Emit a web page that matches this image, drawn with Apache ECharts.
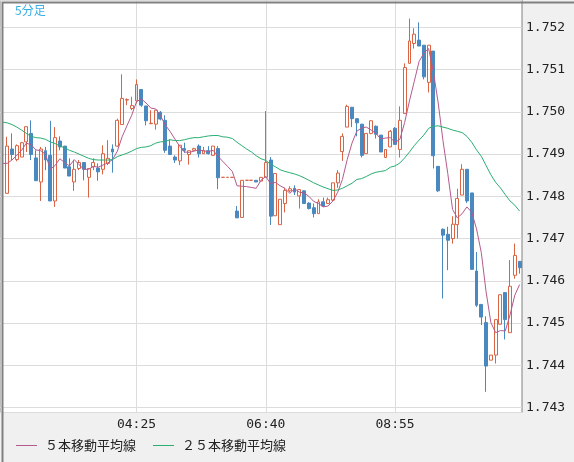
<!DOCTYPE html>
<html>
<head>
<meta charset="utf-8">
<script src="https://cdn.jsdelivr.net/npm/echarts@6/dist/echarts.min.js"></script>
<style>
html,body{margin:0;padding:0;background:#f0f0f0;}
#c{width:574px;height:462px;}
</style>
</head>
<body>
<div id="c"></div>
<script>
const times = [
'02:05','02:10','02:15','02:20','02:25','02:30','02:35','02:40','02:45','02:50','02:55',
'03:00','03:05','03:10','03:15','03:20','03:25','03:30','03:35','03:40','03:45','03:50','03:55',
'04:00','04:05','04:10','04:15','04:20','04:25','04:30','04:35','04:40','04:45','04:50','04:55',
'05:00','05:05','05:10','05:15','05:20','05:25','05:30','05:35','05:40','05:45','05:50','05:55',
'06:00','06:05','06:10','06:15','06:20','06:25','06:30','06:35','06:40','06:45','06:50','06:55',
'07:00','07:05','07:10','07:15','07:20','07:25','07:30','07:35','07:40','07:45','07:50','07:55',
'08:00','08:05','08:10','08:15','08:20','08:25','08:30','08:35','08:40','08:45','08:50','08:55',
'09:00','09:05','09:10','09:15','09:20','09:25','09:30','09:35','09:40','09:45','09:50','09:55',
'10:00','10:05','10:10','10:15','10:20','10:25','10:30','10:35','10:40','10:45','10:50','10:55',
'11:00','11:05'];

const timeLabels = ['04:25','06:40','08:55'];

const opens = [null,
1.74807,1.74912,1.74887,1.74893,1.74929,1.74949,1.74891,1.74834,1.74908,1.74897,
1.74789,1.74931,1.74919,1.74870,1.74834,1.74866,1.74880,1.74845,1.74870,1.74867,
1.74864,1.74878,1.74912,1.74919,1.74970,1.75028,1.75008,1.75026,1.75053,1.75014,
1.74972,1.74971,1.74999,1.74980,1.74919,1.74893,1.74884,1.74913,1.74899,1.74909,
1.74919,1.74901,1.74908,1.74897,1.74913,1.74845,1.74845,1.74845,1.74765,1.74750,
1.74838,1.74838,1.74838,1.74836,1.74845,1.74886,1.74754,1.74733,1.74783,1.74813,
1.74819,1.74801,1.74813,1.74784,1.74773,1.74759,1.74787,1.74783,1.74791,1.74832,
1.74906,1.74964,1.75011,1.74984,1.74971,1.74901,1.74949,1.74966,1.74945,1.74892,
1.74917,1.74961,1.74911,1.74996,1.75115,1.75162,1.75170,1.75158,1.75070,1.75144,
1.74871,1.74722,1.74710,1.74700,1.74733,1.74803,1.74864,1.74808,1.74623,1.74544,
1.74501,1.74412,1.74424,1.74497,1.74572,1.74477,1.74613,1.74646];

const closes = [null,
1.74919,1.74899,1.74920,1.74927,1.74965,1.74899,1.74837,1.74912,1.74886,1.74789,
1.74939,1.74917,1.74867,1.74848,1.74864,1.74880,1.74864,1.74866,1.74880,1.74858,
1.74901,1.74890,1.74905,1.74980,1.75032,1.75029,1.75015,1.75065,1.75016,1.74979,
1.74973,1.75004,1.74983,1.74909,1.74899,1.74886,1.74921,1.74909,1.74908,1.74913,
1.74901,1.74908,1.74901,1.74919,1.74844,1.74845,1.74845,1.74845,1.74749,1.74838,
1.74838,1.74838,1.74834,1.74845,1.74880,1.74753,1.74854,1.74793,1.74814,1.74818,
1.74810,1.74816,1.74783,1.74771,1.74759,1.74787,1.74777,1.74792,1.74832,1.74855,
1.74942,1.75013,1.74984,1.74974,1.74897,1.74949,1.74979,1.74947,1.74905,1.74911,
1.74954,1.74923,1.74980,1.75105,1.75168,1.75184,1.75156,1.75083,1.75158,1.74896,
1.74813,1.74708,1.74696,1.74734,1.74795,1.74864,1.74789,1.74627,1.74542,1.74514,
1.74398,1.74424,1.74508,1.74567,1.74508,1.74587,1.74660,1.74631];

const lows = [null,
1.74807,1.74886,1.74883,1.74893,1.74905,1.74886,1.74837,1.74789,1.74862,1.74789,
1.74775,1.74909,1.74867,1.74848,1.74813,1.74862,1.74838,1.74797,1.74862,1.74837,
1.74852,1.74874,1.74856,1.74917,1.74970,1.75016,1.75004,1.75020,1.75012,1.74968,
1.74971,1.74958,1.74980,1.74903,1.74899,1.74879,1.74874,1.74903,1.74875,1.74908,
1.74892,1.74901,1.74899,1.74897,1.74817,1.74845,1.74845,1.74845,1.74749,1.74750,
1.74838,1.74838,1.74834,1.74836,1.74845,1.74732,1.74754,1.74733,1.74762,1.74810,
1.74803,1.74771,1.74783,1.74769,1.74750,1.74759,1.74775,1.74783,1.74788,1.74820,
1.74884,1.74964,1.74964,1.74942,1.74892,1.74901,1.74947,1.74937,1.74905,1.74892,
1.74917,1.74923,1.74892,1.74996,1.75115,1.75150,1.75156,1.75077,1.75046,1.74866,
1.74810,1.74558,1.74625,1.74688,1.74700,1.74803,1.74784,1.74627,1.74538,1.74495,
1.74337,1.74412,1.74404,1.74497,1.74461,1.74477,1.74605,1.74617];

const highs = [null,
1.74941,1.74949,1.74923,1.74929,1.74965,1.74980,1.74909,1.74917,1.74917,1.74979,
1.74964,1.74942,1.74919,1.74890,1.74886,1.74886,1.74880,1.74866,1.74890,1.74878,
1.74921,1.74933,1.74923,1.74984,1.75089,1.75032,1.75036,1.75077,1.75053,1.75014,
1.75004,1.75004,1.75002,1.74992,1.74935,1.74897,1.74921,1.74927,1.74909,1.74915,
1.74923,1.74917,1.74919,1.74919,1.74919,1.74845,1.74845,1.74845,1.74777,1.74838,
1.74838,1.74838,1.74838,1.74845,1.75002,1.74893,1.74854,1.74793,1.74820,1.74824,
1.74826,1.74816,1.74814,1.74786,1.74783,1.74793,1.74797,1.74797,1.74832,1.74862,
1.74949,1.75017,1.75011,1.74984,1.74971,1.74949,1.74980,1.74968,1.74945,1.74911,
1.74957,1.74964,1.75013,1.75115,1.75221,1.75198,1.75212,1.75158,1.75158,1.75144,
1.74871,1.74724,1.74728,1.74753,1.74818,1.74876,1.74864,1.74808,1.74668,1.74544,
1.74516,1.74424,1.74508,1.74567,1.74572,1.74649,1.74688,1.74646];

const ma5 = [
1.74878,1.74878,1.74886,1.74897,1.74909,1.74926,1.74922,1.74910,1.74908,1.74900,
1.74864,1.74873,1.74889,1.74880,1.74872,1.74887,1.74875,1.74864,1.74864,1.74871,
1.74869,1.74874,1.74879,1.74887,1.74907,1.74941,1.74967,1.74992,1.75024,1.75031,
1.75021,1.75009,1.75007,1.74991,1.74969,1.74954,1.74936,1.74919,1.74905,1.74904,
1.74907,1.74910,1.74908,1.74906,1.74909,1.74895,1.74883,1.74871,1.74859,1.74825,
1.74824,1.74823,1.74821,1.74819,1.74838,1.74847,1.74830,1.74833,1.74825,1.74819,
1.74807,1.74818,1.74810,1.74808,1.74800,1.74788,1.74783,1.74775,1.74777,1.74789,
1.74809,1.74840,1.74887,1.74926,1.74954,1.74962,1.74964,1.74957,1.74949,1.74936,
1.74938,1.74939,1.74928,1.74935,1.74975,1.75026,1.75072,1.75119,1.75139,1.75150,
1.75095,1.75021,1.74932,1.74854,1.74769,1.74749,1.74759,1.74775,1.74762,1.74723,
1.74667,1.74574,1.74501,1.74477,1.74482,1.74481,1.74519,1.74566,1.74591];

const ma25 = [
1.74976,1.74974,1.74970,1.74964,1.74957,1.74949,1.74942,1.74939,1.74938,1.74935,
1.74929,1.74925,1.74919,1.74915,1.74909,1.74905,1.74900,1.74895,1.74890,1.74887,
1.74886,1.74886,1.74886,1.74887,1.74894,1.74898,1.74902,1.74907,1.74913,1.74916,
1.74917,1.74920,1.74926,1.74929,1.74930,1.74934,1.74932,1.74932,1.74934,1.74937,
1.74939,1.74939,1.74941,1.74943,1.74944,1.74944,1.74941,1.74940,1.74937,1.74928,
1.74920,1.74912,1.74905,1.74896,1.74889,1.74885,1.74876,1.74870,1.74863,1.74859,
1.74856,1.74853,1.74849,1.74844,1.74838,1.74832,1.74827,1.74822,1.74818,1.74814,
1.74815,1.74819,1.74825,1.74831,1.74840,1.74842,1.74847,1.74853,1.74857,1.74859,
1.74861,1.74869,1.74872,1.74879,1.74891,1.74905,1.74920,1.74933,1.74945,1.74961,
1.74966,1.74967,1.74964,1.74961,1.74957,1.74954,1.74951,1.74942,1.74928,1.74910,
1.74895,1.74873,1.74851,1.74833,1.74820,1.74804,1.74789,1.74779,1.74765];

const ma5Name = '５本移動平均線';
const ma25Name = '２５本移動平均線';

const candles = times.map(function (t, i) {
  if (opens[i] === null) return ['-', '-', '-', '-'];
  return [opens[i], closes[i], lows[i], highs[i]];
});

const chart = echarts.init(document.getElementById('c'));
const upColor = '#da6444';
const downColor = '#4a88c0';
const monoFont = 'DejaVu Sans Mono';
const jpFont = 'Noto Sans CJK JP';

chart.setOption({
  animation: false,
  backgroundColor: '#f0f0f0',
  title: {
    text: '5分足',
    left: 15,
    top: 4,
    padding: 0,
    textStyle: { fontSize: 12, fontWeight: 'normal', color: '#36aee6', fontFamily: jpFont }
  },
  legend: {
    data: [ma5Name, ma25Name],
    left: 16,
    top: 439,
    padding: 0,
    icon: 'rect',
    itemWidth: 21,
    itemHeight: 1,
    itemGap: 17,
    selectedMode: false,
    textStyle: { fontSize: 13, color: '#222', fontFamily: jpFont, padding: [0, 0, 0, 3] }
  },
  grid: {
    left: 0, right: 52, top: 0, bottom: 49.5,
    show: true,
    backgroundColor: '#ffffff',
    borderColor: '#808080',
    borderWidth: 1
  },
  xAxis: {
    type: 'category',
    data: times,
    boundaryGap: true,
    axisLine: { show: false },
    axisTick: { show: false },
    splitLine: { show: false },
    axisLabel: {
      interval: function (i, v) { return timeLabels.indexOf(v) >= 0; },
      margin: 6,
      fontFamily: monoFont,
      fontSize: 13,
      color: '#222'
    }
  },
  yAxis: {
    type: 'value',
    position: 'right',
    min: 1.74288,
    max: 1.75265,
    splitNumber: 10,
    minInterval: 0.001,
    maxInterval: 0.001,
    axisLine: { show: false },
    axisTick: { show: false },
    splitLine: { show: true, lineStyle: { color: '#dcdcdc', width: 1 } },
    axisLabel: {
      margin: 4,
      showMinLabel: false,
      showMaxLabel: false,
      fontFamily: monoFont,
      fontSize: 13,
      color: '#222',
      formatter: function (v) { return v.toFixed(3); }
    }
  },
  graphic: [{
    type: 'rect',
    left: 0, top: 0,
    shape: { x: 0, y: 0, width: 573, height: 461 },
    style: { fill: 'none', stroke: '#808080', lineWidth: 2 },
    silent: true,
    z: 100
  }],
  series: [
    {
      type: 'candlestick',
      name: '5分足',
      data: candles,
      barWidth: 3.4,
      itemStyle: {
        color: 'rgba(255,255,255,0)',
        color0: downColor,
        borderColor: upColor,
        borderColor0: downColor,
        borderWidth: 1
      },
      markLine: {
        silent: true,
        z: 1,
        symbol: ['none', 'none'],
        label: { show: false },
        lineStyle: { color: '#dcdcdc', width: 1, type: 'solid' },
        data: timeLabels.map(function (t) { return { xAxis: t }; })
      }
    },
    {
      type: 'line',
      name: ma5Name,
      data: ma5,
      showSymbol: false,
      symbol: 'none',
      lineStyle: { width: 1, color: '#b45a8c' },
      itemStyle: { color: '#b45a8c' }
    },
    {
      type: 'line',
      name: ma25Name,
      data: ma25,
      showSymbol: false,
      symbol: 'none',
      lineStyle: { width: 1, color: '#2aae72' },
      itemStyle: { color: '#2aae72' }
    }
  ]
});
</script>
</body>
</html>
